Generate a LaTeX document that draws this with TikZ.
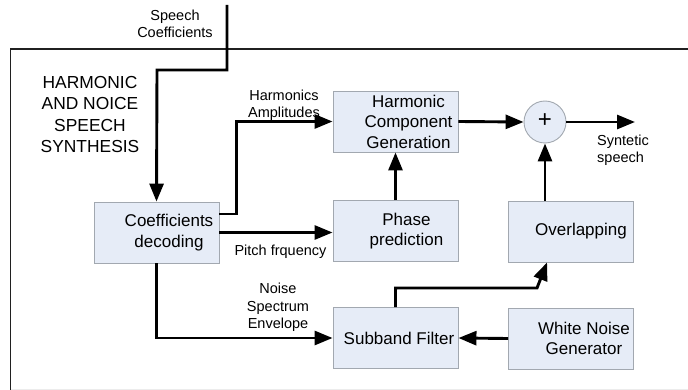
\documentclass[tikz,border=0pt]{standalone}
\usepackage{fontspec}
\setmainfont{Liberation Sans}
\usetikzlibrary{arrows.meta,calc}
\definecolor{boxfill}{HTML}{E6ECF7}
\definecolor{boxline}{HTML}{A2A8B0}
\definecolor{frameline}{HTML}{202020}
\begin{document}
\begin{tikzpicture}[x=1pt,y=-1pt,
  box/.style={draw=boxline,fill=boxfill,line width=0.9pt,minimum width=125pt,minimum height=61pt,inner sep=0pt},
  boxtext/.style={align=center,font=\fontsize{17}{20.5}\selectfont,inner sep=0pt},
  lbl/.style={align=center,font=\fontsize{14.5}{17.5}\selectfont,inner sep=0pt},
  flow/.style={line width=2.9pt,-{Triangle[length=18pt,width=14pt]}},
  plain/.style={line width=2.9pt}]
\useasboundingbox (0,0) rectangle (688,390);
% frame
\draw[frameline,line width=1.3pt] (10.5,390) -- (10.5,49) -- (688,49);
\draw[gray!15,line width=1pt] (11,389) -- (688,389);
% boxes
\node[box] (dec) at (156.5,232.5) {};
\node[box] (hcg) at (395.5,121.5) {};
\node[box] (phase) at (395.5,231) {};
\node[box] (ovl) at (571,231.5) {};
\node[box] (sub) at (395.5,338) {};
\node[box] (wng) at (571,338.5) {};
\node[circle,draw=boxline,fill=boxfill,line width=0.9pt,minimum size=42pt,inner sep=0pt] (sum) at (545,122) {};
\node[boxtext] at (545,121) {\fontsize{24}{24}\selectfont +};
% box texts
\node[boxtext] (tdec) at ($(dec.center)+(12.5,0)$) {Coefficients\\decoding};
\node[boxtext] (thcg) at ($(hcg.center)+(13,0)$) {Harmonic\\Component\\Generation};
\node[boxtext] (tphase) at ($(phase.center)+(11,0)$) {Phase\\prediction};
\node[boxtext] (tovl) at ($(ovl.center)+(10,0)$) {Overlapping};
\node[boxtext] (tsub) at ($(sub.center)+(3.5,0)$) {Subband Filter};
\node[boxtext] (twng) at ($(wng.center)+(13,0)$) {White Noise\\Generator};
% title
\node[align=center,font=\fontsize{17.4}{21.6}\selectfont,inner sep=0pt] (title) at (90,114.5) {HARMONIC\\AND NOICE\\SPEECH\\SYNTHESIS};
% labels
\node[lbl] (lsc) at (175,24) {Speech\\Coefficients};
\node[lbl] (lha) at (284,105.5) {Harmonics\\Amplitudes};
\node[lbl] (lpf) at (280.5,252) {Pitch frquency};
\node[lbl] (lnse) at (278,307.5) {Noise\\Spectrum\\Envelope};
\node[lbl,align=left,anchor=west] (lss) at (597,150.5) {Syntetic\\speech};
% connectors
\coordinate (in) at (227,5);
\coordinate (out) at (635,122);
\draw[flow] (in) -- (227,70) -- (157,70) -- (dec.north);
\draw[flow] ($(dec.east)+(0,-18.5)$) -- ++(17,0) |- (hcg.west);
\draw[flow] (dec.east) -- (dec.east -| phase.west);
\draw[flow] (phase.north) -- (hcg.south);
\draw[flow] (hcg.east) -- (sum.west);
\draw[flow] (sum.east) -- (out);
\draw[flow] (sum.south |- ovl.north) -- (sum.south);
\draw[flow] (dec.south) |- (sub.west);
\draw[flow] (sub.north) -- ++(0,-19) -- (537,288) -- ($(ovl.south west)+(39,0)$);
\draw[flow] (wng.west) -- (sub.east);
\end{tikzpicture}
\end{document}
